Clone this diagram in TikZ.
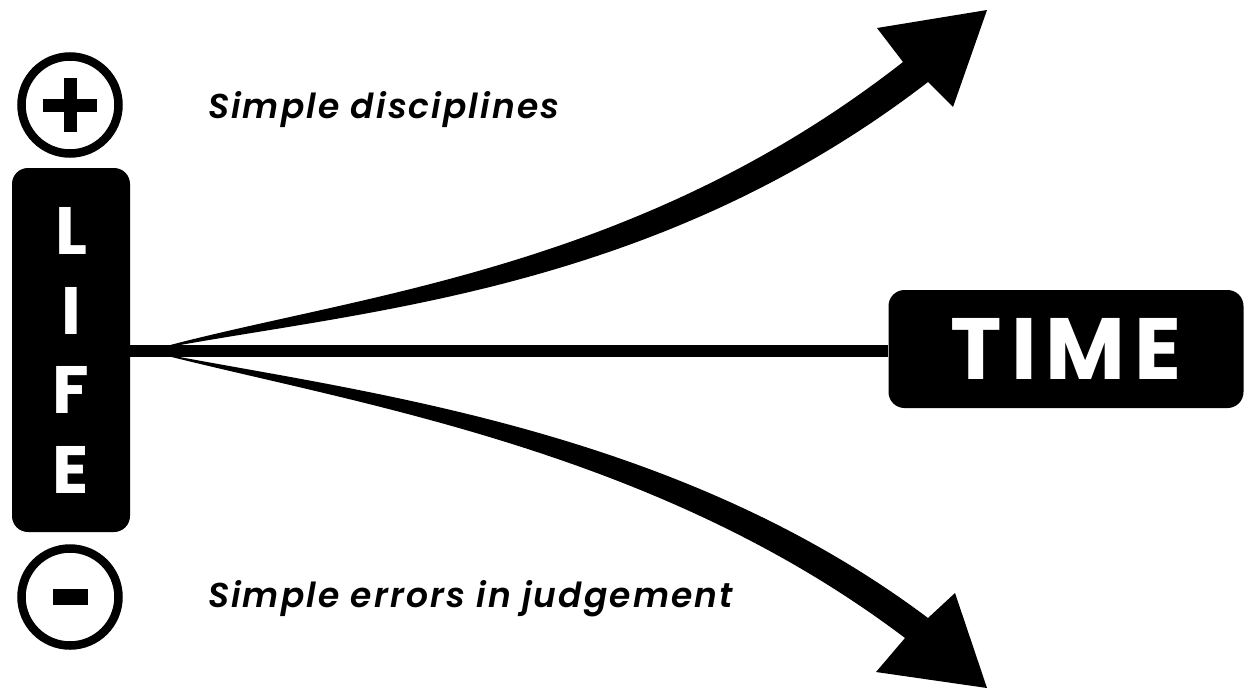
\documentclass[tikz,border=0pt]{standalone}
\usepackage{fontspec}
\setmainfont{Poppins}
\newfontfamily\labelfont{Poppins SemiBold Italic}
\begin{document}
\begin{tikzpicture}[x=1pt,y=-1pt,
  boxstyle/.style={fill=black,rounded corners=16,inner sep=0pt},
  ring/.style={circle,draw=black,line width=8.5pt,minimum size=97pt,inner sep=0pt},
  bigletter/.style={text=white,font=\fontsize{67}{67}\selectfont\bfseries,inner sep=0pt},
  label/.style={anchor=base west,inner sep=0pt,font=\fontsize{34.5}{34.5}\selectfont\labelfont\addfontfeature{LetterSpace=6}},
  shaft/.style={fill=black}]
\useasboundingbox (0,0) rectangle (1244,691);
% plus / minus
\node[ring] (plus) at (70,105) {};
\fill ([xshift=-27pt,yshift=-6.5pt]plus.center) rectangle ([xshift=27pt,yshift=6.5pt]plus.center);
\fill ([xshift=-6.5pt,yshift=-27pt]plus.center) rectangle ([xshift=6.5pt,yshift=27pt]plus.center);
\node[ring] (minus) at (70,597) {};
\fill ([xshift=-17.5pt,yshift=-8pt]minus.center) rectangle ([xshift=17.5pt,yshift=8pt]minus.center);
% LIFE box
\node[boxstyle,minimum width=118pt,minimum height=364pt] (life) at (71,350) {};
\node[bigletter] (lL) at (71,231) {L};
\node[bigletter] (lI) at (71,311) {I};
\node[bigletter] (lF) at (71,390) {F};
\node[bigletter] (lE) at (71,470) {E};
% TIME box
\node[boxstyle,minimum width=355pt,minimum height=118pt,text=white,
  font=\fontsize{87}{87}\selectfont\bfseries\addfontfeature{LetterSpace=10}] (time) at (1066,349) {TIME};
% horizontal connector
\draw[line width=12pt] (life.east |- 0,351) -- (time.west |- 0,351);
% labels
\node[label] (good) at (208,118) {Simple disciplines};
\node[label] (bad) at (208,607) {Simple errors in judgement};
% curved tapered arrows
\coordinate (origin) at (148,351);
\fill[shaft] (origin) .. controls (348,295) and (632,274) .. (903,62)
  -- (877,28) -- (987,10) -- (953,107) -- (928,82)
  .. controls (650,296) and (352,311) .. (origin) -- cycle;
\fill[shaft] (origin) .. controls (352,391) and (671,425) .. (928,618)
  -- (955,593) -- (987,688) -- (876,672) -- (905,638)
  .. controls (653,447) and (348,403) .. (origin) -- cycle;
\end{tikzpicture}
\end{document}
